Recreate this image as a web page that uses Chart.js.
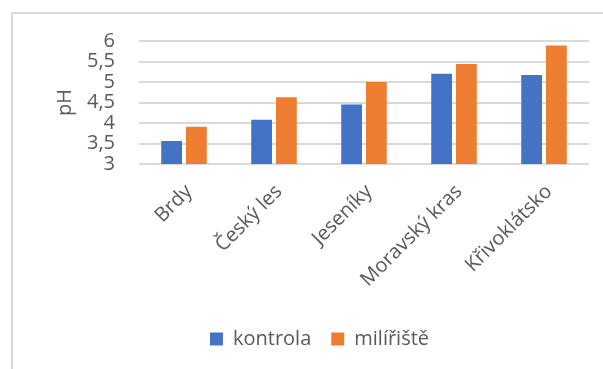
<!DOCTYPE html>
<html>
<head>
<meta charset="utf-8">
<script src="https://cdn.jsdelivr.net/npm/chart.js@4"></script>
<style>
  html, body { margin: 0; padding: 0; background: #fff; overflow: hidden; }
  #wrap { position: relative; width: 603px; height: 369px; }
  #frame {
    position: absolute; left: 11px; top: 12px; width: 700px; height: 400px;
    border-left: 2px solid #d9d9d9; border-top: 2px solid #d9d9d9;
    box-sizing: border-box;
  }
  canvas { position: absolute; left: 0; top: 0; }
</style>
</head>
<body>
<div id="wrap">
  <div id="frame"></div>
  <canvas id="phChart" width="603" height="369"></canvas>
</div>
<script>
const lokality = ['Brdy', 'Český les', 'Jeseníky', 'Moravský kras', 'Křivoklátsko'];
const kontrola = [3.56, 4.08, 4.45, 5.2, 5.17];
const miliriste = [3.91, 4.63, 5.0, 5.44, 5.89];
const osaMin = 3;
const osaMax = 6;
const krok = 0.5;

const pismo = "'Segoe UI', 'Open Sans', sans-serif";
const seda = '#595959';

const ctx = document.getElementById('phChart').getContext('2d');
new Chart(ctx, {
  type: 'bar',
  data: {
    labels: lokality,
    datasets: [
      {
        label: 'kontrola',
        data: kontrola,
        backgroundColor: '#4472C4',
        barPercentage: 0.84,
        categoryPercentage: 0.55,
      },
      {
        label: 'milířiště',
        data: miliriste,
        backgroundColor: '#ED7D31',
        barPercentage: 0.84,
        categoryPercentage: 0.55,
      },
    ],
  },
  options: {
    responsive: false,
    animation: false,
    layout: {
      padding: { left: 50, right: 14, top: 41, bottom: 10 },
    },
    plugins: {
      tooltip: { enabled: false },
      legend: {
        position: 'bottom',
        labels: {
          boxWidth: 13,
          boxHeight: 13,
          padding: 20,
          color: seda,
          font: { family: pismo, size: 20 },
        },
      },
    },
    scales: {
      x: {
        grid: { display: false },
        border: { display: false },
        ticks: {
          color: seda,
          font: { family: pismo, size: 20 },
          minRotation: 45,
          maxRotation: 45,
          padding: 8,
          labelOffset: 5,
        },
        afterFit: (scale) => { scale.height = 145; },
      },
      y: {
        min: osaMin,
        max: osaMax,
        border: { display: false },
        grid: { color: '#d9d9d9', lineWidth: 2, drawTicks: false },
        ticks: {
          stepSize: krok,
          autoSkip: false,
          padding: 24,
          color: seda,
          font: { family: pismo, size: 20 },
          callback: (v) => String(v).replace('.', ','),
        },
        title: {
          display: true,
          text: 'pH',
          color: seda,
          font: { family: pismo, size: 20 },
          padding: 3,
        },
        afterFit: (scale) => { scale.width = 89; },
      },
    },
  },
});
</script>
</body>
</html>
